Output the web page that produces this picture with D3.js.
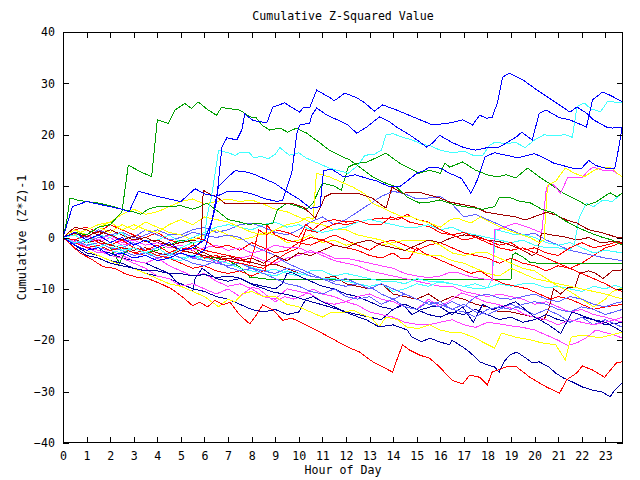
<!DOCTYPE html>
<html><head><meta charset="utf-8">
<script src="https://cdn.jsdelivr.net/npm/d3@7"></script>
<style>
html,body{margin:0;padding:0;background:#fff;}
svg{display:block;}
text{font-family:'DejaVu Sans Mono',monospace;font-size:11.6px;fill:#000;}
</style>
</head><body>
<svg id="chart" width="640" height="480"></svg>
<script>
// ---- tick labels / titles ----
const xTicks = d3.range(0, 24);
const yTicks = [-40, -30, -20, -10, 0, 10, 20, 30, 40];
const titleText = "Cumulative Z-Squared Value";
const xLabel = "Hour of Day";
const yLabel = "Cumulative (Z*Z)-1";

// ---- series: [hour, value] ----
const blueTop = [[0,0],[0.5,-1.5],[1,-2.5],[1.5,-2],[2,-3.5],[2.5,-3],[3,-4],[3.5,-3.5],[4,-4.5],[4.5,-4],[5,-3],[5.5,-3.8],[6,-2.5],[6.1,-1],[6.5,6.7],[6.74,17.6],[6.95,19.4],[7.37,19],[7.58,20.9],[7.71,24],[8.05,22.8],[8.64,22.3],[8.9,25.4],[9.4,26.2],[9.75,25.2],[10.04,24.4],[10.17,25.2],[10.47,25.4],[10.76,28.7],[10.9,28.3],[11.3,27.3],[11.5,26.6],[11.95,28.1],[12.46,27.2],[12.8,26.2],[13.2,24.6],[13.56,25.8],[14.15,24.8],[14.83,23.5],[15.68,21.9],[16.4,22.3],[16.95,22.9],[17.37,21.9],[17.67,23.8],[17.97,23.2],[18.2,23.4],[18.43,26.3],[18.64,31.2],[18.94,32],[19.5,30.7],[20.1,28.7],[20.6,27.2],[21.06,25.8],[21.5,24.4],[21.8,25.4],[22.2,24.2],[22.5,22.9],[23.05,21.5],[23.3,21.3],[23.73,21.5]];
const blueSecond = [[0,0],[0.4,6],[1,7],[1.5,6.5],[2,6],[2.5,5.5],[2.8,5],[3.2,9],[3.6,8.5],[4,8],[4.5,7.5],[5,7],[5.6,9.5],[6,8.5],[6.5,8],[7,9],[7.5,9],[8,8.5],[8.6,7.5],[9.1,7],[9.32,7.3],[9.7,12.5],[9.92,20.3],[10.04,21.9],[10.47,22.3],[10.55,23.8],[10.76,25.2],[11.2,23.8],[11.74,22.7],[12.08,21.9],[12.46,20.3],[12.88,21.5],[13.43,23.5],[13.86,22.5],[14.15,21.5],[14.58,20.3],[14.83,19.6],[15.42,17.6],[15.68,18.4],[15.97,19.9],[16.5,18.5],[17,17.5],[17.5,17],[18,17.5],[18.5,17.6],[19.24,19.6],[19.45,20.5],[19.9,19],[20.2,24.2],[20.5,24.8],[21.06,23.3],[21.5,22.9],[22.2,21.5],[22.46,26.8],[22.88,28.3],[23.2,27.7],[23.73,26.4]];
const blueThird = [[0,0],[0.5,1],[1,-0.5],[1.5,0.5],[2,-1],[2.5,0],[3,-1.5],[3.5,-0.5],[4,-2],[4.5,-1],[5,-2.5],[5.5,-2],[6,-0.5],[6.3,3],[6.6,10],[7,11.8],[7.3,13],[7.7,12.8],[8,12.5],[8.5,11.5],[9,10.5],[9.6,8.6],[10,7.5],[10.5,5.7],[10.9,6],[11.05,13],[11.4,13.3],[11.9,11.8],[12.4,12.2],[12.9,11.5],[13.3,11],[13.8,10],[14.3,10],[14.6,11],[15,12.5],[15.3,13],[15.55,13.7],[16,13.5],[16.4,12.5],[16.9,11.5],[17.3,8.6],[17.6,11.5],[17.9,15.7],[18.3,16.5],[18.8,16],[19.3,15.5],[19.7,16],[20,16.3],[20.4,15.5],[20.8,14.5],[21.2,14],[21.6,13.5],[22,13.5],[22.3,15],[22.6,14],[23,13.5],[23.4,13.5],[23.55,17],[23.73,22]];
const cyanTop = [[0,0],[0.5,-1],[1,-0.5],[1.5,-2],[2,-1],[2.5,-2.5],[3,-2],[3.5,-3],[4,-2],[4.5,-3.5],[5,-2],[5.5,-1],[6,-0.5],[6.1,4],[6.3,8],[6.5,14],[6.6,17],[7,16.5],[7.3,16],[7.5,16.5],[7.9,16.5],[8.1,15.5],[8.4,15.8],[8.7,15.3],[9,16.2],[9.2,17.5],[9.6,16],[10,16.5],[10.3,15.5],[10.8,14.5],[11.3,13.5],[11.7,13],[12.1,12.5],[12.5,14],[12.8,16],[13.2,16.2],[13.5,17],[13.7,20],[14,20.2],[14.4,19.5],[14.8,19],[15.2,18.2],[15.6,17.8],[16,17],[16.5,16.5],[17,16.8],[17.4,16],[17.8,16],[18.1,18],[18.3,18.5],[18.8,18.3],[19.2,18.5],[19.6,17.5],[20,19],[20.4,20],[20.8,19.8],[21.3,20],[21.6,19.5],[21.8,25.5],[22.1,26.2],[22.4,25],[22.8,24.5],[23.1,26.5],[23.73,26.2]];
const greenTop = [[0,0],[0.5,1],[1,0.5],[1.5,2],[2,2.5],[2.3,4],[2.5,5],[2.77,14.1],[3.2,13],[3.76,11.8],[4,22.9],[4.46,22.2],[4.75,24.8],[5.17,26.1],[5.45,25.1],[5.73,26.4],[6.1,25],[6.51,23.8],[6.72,25.3],[7.5,24.8],[7.92,23.5],[8.2,23.3],[8.43,21.9],[8.77,20.9],[9.2,21.3],[9.53,20.5],[9.9,21.3],[10.34,20.3],[10.9,18.4],[11.3,17],[11.86,15.7],[12.16,15.1],[12.58,13.7],[13.14,11.8],[13.56,10.8],[14.15,9.8],[14.58,7.9],[15.13,6.7],[15.55,6.9],[15.97,7.3],[16.5,6.5],[17,6],[17.4,5.8],[17.8,5.5],[18.3,6],[18.5,7.7],[19,7.7],[19.4,7],[19.8,6.8],[20.3,5.5],[20.8,4.8],[21.2,3.5],[21.8,2],[22.3,1],[22.9,0],[23.3,-0.5],[23.73,-1.5]];
const greenMid = [[0,0],[0.15,3],[0.3,7.7],[0.6,7.3],[1,7],[1.5,6.7],[2,6.2],[2.5,5.5],[3,5],[3.3,4.5],[3.6,5.5],[4,6],[4.5,6],[5,6.2],[5.5,5.5],[5.8,6],[6.1,6.7],[6.6,5],[7,3.5],[7.5,3],[7.9,2.5],[8.2,2.8],[8.6,2.5],[8.9,2.8],[9.1,5.4],[9.5,6.7],[10,6],[10.3,5.4],[10.6,6.7],[11,10.6],[11.5,10],[11.8,9.2],[12.1,13.7],[12.4,14.4],[12.9,14.7],[13.7,16.4],[14.3,14.4],[15.1,12.5],[15.55,13.1],[16,12.5],[16.2,14.5],[16.4,13.7],[16.95,14.7],[17.5,13.1],[18,12.2],[18.4,11.8],[18.8,12.2],[19.2,11.6],[19.7,13.5],[20.2,11.8],[20.6,10.6],[21.2,8.7],[21.8,7.3],[22.2,6.3],[22.6,6.9],[23.2,8.7],[23.5,7.9],[23.73,8.7]];
const greenFlat = [[0,0],[0.5,-1],[1,-1.5],[1.5,-1],[2,-2],[2.4,-5],[2.6,-3],[3,-2],[3.5,-3],[4,-2.5],[4.5,-1.5],[5,-0.5],[5.5,-1],[5.8,-3.4],[6.5,-4],[7,-4.5],[7.5,-5.7],[7.92,-7.7],[8.3,-7.9],[8.65,-8.1],[19.0,-8.1],[19.05,-3.4],[19.2,-3],[19.5,-3.8],[19.8,-4.8],[20.1,-5],[23.73,-5]];
const darkredFlat = [[0,0],[0.5,0.8],[1,0.2],[1.5,1.2],[2,0.5],[2.5,-0.5],[3,0.3],[3.5,-0.8],[4,-0.5],[4.5,-1.5],[5,-1],[5.5,-0.5],[5.85,-1],[5.95,9.2],[6.2,8.5],[6.5,8],[6.85,6.7],[9.7,6.7],[10.2,5.9],[10.7,3.8],[11,6.7],[11.1,7.9],[11.4,8.6],[12.5,8.6],[13.1,7.7],[13.4,6.7],[13.7,5.7],[13.95,9.8],[14.4,8.6],[14.8,8.8],[15.1,8.8],[15.5,8.3],[15.97,7.7],[16.4,6.9],[17.5,5.9],[17.95,4.9],[19.2,4],[19.6,3.4],[20.5,4.9],[20.9,4.4],[21.36,3.4],[21.8,2.8],[22.3,1.5],[22.9,0.9],[23.5,0],[23.73,0.1]];
const magentaJump = [[0,0],[0.5,1],[1,0.5],[1.5,-0.5],[2,0.5],[2.5,-1],[3,-0.5],[3.5,-1.5],[4,-1],[4.5,-2],[5,-1.5],[5.5,-2.5],[6,-2],[6.5,-1.5],[7,-2.5],[7.5,-2],[8,-3],[8.5,-2.5],[9,-1.5],[9.5,-2],[10,-2],[10.5,-3],[11,-3],[11.5,-4],[12,-4],[12.5,-4.5],[13,-5],[13.5,-5.5],[14,-6],[14.5,-7],[15,-7.5],[15.5,-7.8],[16,-7.5],[16.4,-6.8],[16.8,-6.9],[17.2,-7.5],[17.6,-7.9],[18,-8.2],[18.2,-8.3],[18.3,1.5],[18.43,1.5],[18.7,2],[19.2,2.8],[19.7,2],[20,1.5],[20.3,0.9],[20.5,9.6],[20.7,10.6],[20.9,9.8],[21.1,8.6],[21.4,11.6],[22,11.6],[22.3,13.1],[22.5,13.7],[22.9,13.1],[23.3,13.1],[23.73,11.8]];
const yellowJump = [[0,0],[0.5,1],[1,0.5],[1.5,2],[2,3],[2.5,1.5],[3,2.5],[3.5,1.5],[4,1],[4.5,2.5],[5,3.5],[5.5,2.5],[6,4],[6.5,3.5],[7,3],[7.5,2],[8,1],[8.5,0.5],[9,1.5],[9.5,2.5],[10,3],[10.4,4],[10.6,3.5],[10.75,12.5],[11,12.2],[11.3,11.8],[11.8,10.8],[12.3,9.8],[12.8,8.5],[13.1,6.7],[13.6,5.7],[14,4.8],[14.4,4],[14.8,4],[15.1,3.4],[15.55,2.8],[16,2],[16.4,3.4],[16.7,3.8],[17.3,2.8],[17.7,4],[18.2,2.8],[18.8,1.5],[19.2,0.9],[19.8,0],[20.2,-1],[20.4,-0.5],[20.55,10.2],[20.9,11],[21.3,13.5],[21.7,12.5],[22.1,11.8],[22.5,13],[22.9,13.7],[23.3,13.5],[23.5,12.5],[23.73,11.8]];
const redBottom = [[0,0],[0.72,-3],[1.2,-4.2],[1.7,-5.7],[2.2,-6],[2.6,-7],[3.1,-7.7],[3.6,-8],[4.1,-8.9],[4.6,-10],[5.08,-11.6],[5.5,-13.3],[5.8,-12.6],[6.14,-13.5],[6.44,-12.2],[6.78,-13.1],[7.08,-12.6],[7.5,-15.1],[7.92,-16.8],[8.14,-15.5],[8.47,-13.1],[8.9,-14.1],[9.32,-16.1],[9.7,-15.7],[10.13,-16.6],[10.47,-17.4],[10.9,-18.4],[11.3,-19.4],[11.74,-20.5],[12.16,-21.5],[12.58,-22.3],[13.14,-24.2],[13.56,-25.2],[13.98,-26.2],[14.2,-23.3],[14.4,-20.9],[14.7,-21.9],[15.13,-22.9],[15.55,-23.5],[15.97,-25.2],[16.5,-27.8],[16.95,-28.5],[17.25,-26.8],[17.67,-27.2],[18.0,-28.7],[18.2,-26.2],[18.8,-25.2],[19.24,-25.2],[19.8,-27.2],[20.5,-29.1],[21.06,-30.3],[21.36,-27.7],[21.78,-26.4],[22.03,-25],[22.46,-25.8],[22.97,-27.2],[23.47,-24.4],[23.73,-24.2]];
const navyBottom = [[0,0],[0.5,-2],[1,-3.5],[1.5,-4],[2,-5],[2.5,-5.5],[3,-6],[3.5,-6.5],[4,-6.5],[4.5,-7],[5,-7],[5.5,-7.5],[6,-7.2],[6.5,-7.8],[7,-7.5],[7.5,-7.9],[8.05,-9.2],[8.9,-10.6],[9.6,-11.2],[10.3,-12.2],[11,-13.1],[11.74,-14.1],[12.3,-15.1],[12.9,-16.1],[13.4,-17.4],[14,-17],[14.6,-18],[14.8,-19.4],[15.2,-20.3],[15.55,-19.6],[15.97,-20.3],[16.4,-20.9],[16.5,-20],[16.95,-21.3],[17.25,-22.3],[17.67,-24.2],[18,-24.8],[18.3,-25.2],[18.5,-26.2],[18.7,-24.2],[18.94,-22.9],[19.24,-22.3],[19.58,-23.3],[19.9,-24.4],[20.2,-24.2],[20.6,-25.2],[20.9,-26.4],[21.2,-27.3],[21.6,-28.1],[22.03,-29.1],[22.46,-29.7],[22.88,-30.1],[23.2,-31],[23.4,-29.7],[23.73,-28.3]];
const redA = [[0,0],[0.5,-1],[1,-2],[1.5,-1.5],[2,-2.5],[2.5,-2],[3,-3],[3.5,-2.5],[4,-3.5],[4.5,-4],[5,-3],[5.5,-1.5],[6,-2.5],[6.5,-3],[7,-3.5],[7.5,-4],[7.9,-5],[8.1,-2.5],[8.3,1.5],[8.6,0.5],[9,1.5],[9.5,1],[10,0],[10.3,2.5],[10.6,1.5],[11,3],[11.5,3.5],[12,3],[12.5,3.3],[13,2.5],[13.5,2.5],[13.9,4],[14.2,3.5],[14.6,4.5],[15,3.5],[15.5,3],[16,1.5],[16.5,0.5],[17,1],[17.5,0],[18,-0.5],[18.5,-1.5],[19,-1],[19.5,-2.5],[20,-2],[20.5,-3],[21,-3.5],[21.5,-2],[22,-1],[22.5,-2],[23,-1.5],[23.4,-1],[23.73,-1.1]];
const darkredB = [[0,0],[0.5,-0.5],[1,-1],[1.5,-0.5],[2,-1.5],[2.5,-2],[3,-2.5],[3.5,-2],[4,-3],[4.5,-3.5],[5,-2.5],[5.5,-3],[6,-3.5],[6.5,-4.5],[7,-4],[7.5,-4.5],[8,-4.8],[8.5,-5.5],[9,-5.2],[9.5,-6],[10,-7],[10.5,-7.5],[11,-8],[11.5,-7.5],[12,-9],[12.5,-9.5],[13,-10],[13.5,-9],[14,-11],[14.5,-11.5],[15,-12],[15.5,-11],[16,-12.5],[16.5,-11.5],[17,-12],[17.5,-13],[18,-13.5],[18.5,-14.5],[19,-14.5],[19.5,-15],[20,-15.5],[20.4,-16],[20.6,-14],[20.8,-10],[21.1,-11],[21.4,-9.8],[21.7,-9.8],[21.9,-7],[22.3,-6.5],[22.6,-7],[22.9,-8],[23.3,-6.5],[23.73,-6.3]];
const cyanLow = [[0,0],[0.5,-0.5],[1,-1.5],[1.5,-1],[2,-2],[2.5,-1.5],[3,-3],[3.5,-2.5],[4,-3.5],[4.5,-3],[5,-4],[5.5,-3.5],[6,-4.5],[6.5,-5],[7,-5.5],[7.5,-5],[8,-5.8],[8.5,-6.5],[9,-6.2],[9.5,-7],[10,-7.5],[10.5,-6.5],[11,-6.5],[11.5,-7.5],[12,-7],[12.5,-7.5],[13,-8],[13.5,-8.5],[14,-8.5],[14.5,-9],[15,-8],[15.5,-8.5],[16,-8.7],[16.5,-9],[17,-9.5],[17.5,-10],[18,-9.8],[18.5,-9],[19,-9.5],[19.5,-9],[20,-9],[20.5,-9.8],[21,-9.5],[21.5,-10],[22,-10.5],[22.5,-9.5],[23,-10],[23.4,-9.3],[23.73,-9.8]];
const cyanEnd = [[0,0],[0.5,0.5],[1,-1],[1.5,0.5],[2,0],[2.5,1],[3,-1.5],[3.5,-0.5],[4,-0.5],[4.5,0.5],[5,-1],[5.5,0],[6,1],[6.5,2],[7,2.5],[7.5,2],[8,1.5],[8.5,2.5],[9,3],[9.5,2],[10,2.5],[10.5,1.5],[11,1],[11.5,1.5],[12,2],[12.5,3],[13,3.5],[13.5,3],[14,2.5],[14.5,2],[15,2],[15.5,2.5],[16,1.5],[16.5,2],[17,1],[17.5,0.5],[18,0],[18.5,-0.5],[19,-1],[19.5,-0.5],[20,-1.5],[20.5,-2],[21,-2],[21.5,-2.5],[21.7,-1],[21.9,4],[22.2,6.7],[22.5,6],[22.9,7.3],[23.3,7],[23.73,8.7]];
const cyanJump = [[0,0],[0.5,-0.8],[1,-1.5],[1.5,-2],[2,-2.5],[2.5,-3],[3,-2],[3.5,-3],[4,-3.5],[4.5,-4],[5,-4.5],[5.5,-3.5],[6,-4],[6.5,-4.5],[7,-5],[7.5,-6],[8,-6.5],[8.5,-7],[9,-7.5],[9.5,-6.5],[10,-7],[10.5,-7.5],[11,-8],[11.5,-8],[12,-8.5],[12.5,-9],[13,-9.5],[13.5,-9],[14,-10.5],[14.5,-10],[15,-9],[15.5,-9.5],[16,-8.5],[16.5,-9],[17,-9.5],[17.5,-9],[18,-9.8],[18.2,-8],[18.35,1.5],[18.8,1],[19.2,0.5],[19.6,0.5],[20,0],[20.5,-1],[21,-1.5],[21.5,-1],[22,-2],[22.5,-3],[23,-2.5],[23.73,-3]];
const slateA = [[0,0],[0.5,-0.5],[1,-1.5],[1.5,-1],[2,-2],[2.5,-2.5],[3,-3.5],[3.5,-3],[4,-4],[4.5,-3.5],[5,-3],[5.5,-4],[6,-4.5],[6.5,-5],[7,-5.5],[7.5,-5],[8,-6],[8.5,-6.5],[9,-7],[9.5,-6],[10,-6.5],[10.5,-7.5],[11,-8],[11.5,-9],[12,-9.5],[12.5,-9],[13,-10],[13.5,-9],[14,-10],[14.5,-11],[15,-12],[15.5,-13],[16,-13.5],[16.5,-12.5],[17,-13.5],[17.5,-11.5],[18,-11],[18.5,-11.8],[19,-12],[19.5,-11.5],[20,-11],[20.5,-12],[21,-12.5],[21.5,-11.5],[22,-12],[22.5,-13],[23,-13.5],[23.4,-12.8],[23.73,-12.5]];
const slateB = [[0,0],[0.5,-1.2],[1,-0.5],[1.5,-2],[2,-2.5],[2.5,-2],[3,-1],[3.5,-2.5],[4,-3.5],[4.5,-3],[5,-4],[5.5,-5],[6,-5.5],[6.5,-4.5],[7,-5.8],[7.5,-6.5],[8,-6],[8.5,-7],[9,-8],[9.5,-9],[10,-9.5],[10.5,-10.5],[11,-11],[11.5,-10],[12,-11.5],[12.5,-12],[13,-11.5],[13.5,-13],[14,-12],[14.5,-13.5],[15,-14],[15.5,-12.5],[16,-13],[16.5,-14],[17,-14.5],[17.5,-15.5],[18,-14],[18.5,-13.5],[19,-14],[19.5,-13],[20,-12.5],[20.5,-13],[21,-14],[21.5,-14.5],[22,-13.5],[22.5,-14],[23,-15],[23.73,-14]];
const slateC = [[0,0],[0.5,0.5],[1,-1],[1.5,0],[2,0.5],[2.5,-0.5],[3,-0.5],[3.5,0.5],[4,1.5],[4.5,0.5],[5,0.5],[5.5,1.5],[6,2],[6.5,1],[7,1.5],[7.5,2.5],[8,2.8],[8.5,2],[9,1],[9.5,0.5],[10,1.5],[10.5,3],[11,4],[11.5,2.5],[12,3.5],[12.5,5],[13,6.5],[13.5,8],[14,9],[14.5,8.5],[15,7.5],[15.5,7.7],[16,8],[16.5,6.5],[17,4],[17.5,4.5],[18,3.5],[18.5,2.5],[19,1.5],[19.5,0.5],[20,0.8],[20.5,-0.5],[21,-1.5],[21.5,-2.5],[22,-3],[22.5,-3.5],[23,-4],[23.73,-4.5]];
const slateD = [[0,0],[0.5,1],[1,0],[1.5,1.5],[2,0.5],[2.5,1],[3,0],[3.5,1.5],[4,0.5],[4.5,-0.5],[5,0],[5.5,1],[6,0.5],[6.5,0],[7,0.5],[7.5,0],[8,-1.5],[8.5,-2.5],[9,-3.5],[9.5,-5],[10,-6],[10.5,-7],[11,-8],[11.5,-8.5],[12,-8],[12.5,-9],[13,-9.5],[13.5,-11],[14,-12],[14.5,-11],[15,-12],[15.5,-13],[16,-12.5],[16.5,-14],[17,-13],[17.5,-14.5],[18,-15],[18.5,-14],[19,-13],[19.5,-14],[20,-15],[20.5,-14],[21,-15],[21.5,-16.5],[22,-15.5],[22.5,-17],[23,-16],[23.73,-17.5]];
const magentaA = [[0,0],[0.5,-1],[1,-2],[1.5,-3],[2,-2.5],[2.5,-3.5],[3,-4.5],[3.5,-5],[4,-4],[4.5,-5.5],[5,-6.5],[5.5,-7.5],[6,-7],[6.5,-8.5],[7,-9.5],[7.5,-9],[8,-10],[8.5,-11.5],[9,-12],[9.5,-10],[10,-10.5],[10.5,-11],[11,-12.5],[11.5,-13],[12,-12.5],[12.5,-11.5],[13,-11],[13.5,-12],[14,-12.5],[14.5,-13.5],[15,-14],[15.5,-12],[16,-13.5],[16.4,-12.3],[16.9,-10.8],[17.4,-11.5],[17.9,-12.5],[18.4,-13],[18.8,-13.5],[19.2,-14],[19.6,-15],[20,-15.5],[20.5,-16],[21,-17],[21.5,-16],[22,-16.5],[22.5,-17],[23,-16.5],[23.4,-16],[23.73,-15.5]];
const magentaB = [[0,0],[0.5,1],[1,0],[1.5,-1],[2,0],[2.5,-1.5],[3,-1],[3.5,-2.5],[4,-2],[4.5,-3.5],[5,-3],[5.5,-4],[6,-3.5],[6.5,-5],[7,-4.5],[7.5,-4],[8,-3.5],[8.5,-4.5],[9,-5],[9.5,-4],[10,-3.5],[10.5,-2.5],[11,-3.5],[11.5,-4.5],[12,-5],[12.5,-5.5],[13,-6.5],[13.5,-7],[14,-7.5],[14.5,-8],[15,-8.5],[15.5,-9],[16,-9.5],[16.5,-9.5],[17,-10.5],[17.5,-11],[18,-11.5],[18.5,-11],[19,-11.5],[19.5,-12],[20,-13],[20.5,-12.5],[21,-13.5],[21.5,-14.5],[22,-14],[22.5,-15],[23,-15.5],[23.73,-16.5]];
const magentaC = [[0,0],[0.5,-0.8],[1,-1.8],[1.5,-2.5],[2,-3.5],[2.5,-4],[3,-5],[3.5,-6],[4,-7.5],[4.5,-8],[5,-9.5],[5.5,-9],[6,-10],[6.5,-11],[7,-10],[7.5,-11.5],[8,-9.7],[8.3,-10],[8.7,-11.5],[9,-12.5],[9.4,-11.5],[9.8,-12],[10.2,-11.2],[10.6,-10],[11,-11],[11.5,-11.5],[12,-12.5],[12.5,-13.2],[13,-14.5],[13.5,-15],[14,-15.5],[14.5,-16.5],[15,-16.9],[15.5,-17],[16,-16.5],[16.5,-16],[17,-17],[17.5,-17.5],[18,-16.5],[18.5,-16.8],[19,-17.2],[19.5,-17.5],[20,-18],[20.5,-19],[21,-20],[21.4,-21],[21.8,-20.5],[22.2,-19.5],[22.6,-18],[23,-18.5],[23.4,-19],[23.73,-19.6]];
const navyA = [[0,0],[0.5,-1.5],[1,-3],[1.5,-3.5],[2,-4.5],[2.5,-5],[3,-6],[3.5,-7],[4,-7.5],[4.5,-8],[5,-9],[5.5,-10],[6,-10.5],[6.5,-11.5],[7,-12],[7.5,-13],[8,-14],[8.5,-14.5],[9,-14],[9.5,-15],[10,-14.5],[10.3,-12],[10.6,-11.5],[11,-12.5],[11.5,-13.5],[12,-14.5],[12.5,-15],[13,-15.5],[13.5,-16],[14,-14],[14.4,-13],[14.8,-15],[15.2,-14],[15.6,-13.5],[16,-13.5],[16.5,-15],[16.95,-13.5],[17.4,-16.5],[17.8,-13],[18.2,-14],[18.6,-13.5],[19.2,-12.5],[19.6,-14],[20,-15.5],[20.6,-17],[21.1,-18.7],[21.6,-14.5],[21.9,-15],[22.5,-16],[23,-16.5],[23.4,-17.5],[23.73,-18.4]];
const navyB = [[0,0],[0.5,-1],[1,-2],[1.5,-2.5],[2,-3],[2.5,-4],[3,-4.5],[3.5,-5],[4,-6],[4.5,-7],[5,-9.5],[5.5,-10.5],[5.6,-8],[5.9,-6],[6.2,-7],[6.5,-8],[7,-8.5],[7.5,-8],[8,-9],[8.5,-9.5],[9,-10],[9.3,-9],[9.5,-7],[9.7,-6.8],[10,-7.5],[10.5,-8.5],[11,-9.5],[11.5,-10],[12,-11],[12.5,-11.5],[13,-12.5],[13.5,-13.5],[14,-14],[14.5,-13],[15,-14],[15.5,-15],[16,-15.5],[16.5,-14.5],[17,-15],[17.5,-14],[18,-15],[18.5,-16],[19,-15.5],[19.5,-16.5],[20,-16],[20.5,-15],[21,-16],[21.5,-16.5],[22,-15.5],[22.5,-16],[23,-17],[23.73,-16.5]];
const yellowA = [[0,0],[0.5,1.5],[1,0.5],[1.5,2],[2,1],[2.5,2.5],[3,1.5],[3.5,3],[4,2],[4.5,1],[5,0.5],[5.5,-0.5],[6,0.5],[6.5,1.5],[7,0.5],[7.5,-0.5],[8,0],[8.5,1],[9,0.5],[9.5,-1],[10,-0.5],[10.5,0.5],[11,-1],[11.5,-0.5],[12,-1.5],[12.5,-1],[13,-0.5],[13.5,-1.5],[14,-1],[14.5,-0.5],[15,-0.5],[15.5,-0.5],[16,-1.5],[16.5,-3],[17,-3.5],[17.5,-3],[18,-3],[18.5,-4],[19,-5],[19.5,-6],[20,-6.5],[20.5,-8],[21,-9.5],[21.5,-10.5],[22,-12],[22.5,-13.5],[23,-12],[23.3,-10.5],[23.73,-9.8]];
const yellowB = [[0,0],[0.5,-1.5],[1,-2.5],[1.5,-3.5],[2,-4.5],[2.5,-5.5],[3,-6],[3.5,-7],[4,-8],[4.5,-9],[5,-9.5],[5.5,-10.5],[6,-11.5],[6.3,-12.5],[6.6,-13.5],[7,-12],[7.3,-12.5],[7.6,-11],[8,-10.5],[8.5,-11.5],[9,-11.5],[9.5,-13],[10,-13.5],[10.5,-14.5],[11,-15.5],[11.4,-14.5],[11.8,-14.7],[12.3,-14.1],[12.7,-15],[13.1,-15.7],[13.4,-17.4],[13.7,-15.5],[14.2,-16],[14.6,-17.5],[15.1,-17.7],[15.55,-17],[15.97,-18],[16.5,-18.5],[16.95,-18.6],[17.5,-19.6],[17.9,-20.6],[18.3,-21.5],[18.6,-18.6],[19.2,-19.4],[19.8,-19.9],[20.3,-20.5],[20.9,-20.9],[21.3,-23.8],[21.55,-19.4],[22,-19],[22.3,-19.2],[22.8,-19.5],[23.3,-18.9],[23.73,-18.4]];
const yellowC = [[0,0],[0.5,0.5],[1,1.5],[1.5,2.5],[2,3],[2.5,4.5],[3,5.5],[3.5,4.5],[4,5],[4.5,6],[5,7],[5.5,7.5],[6,6.5],[6.5,7],[7,7.5],[7.5,7],[8,7.3],[8.5,6.5],[9,5.5],[9.5,5],[10,4],[10.5,3],[11,2.5],[11.5,1.5],[12,1.5],[12.5,0.5],[13,0],[13.5,-0.5],[14,-1.5],[14.5,-2.5],[15,-3],[15.5,-3.5],[16,-3.5],[16.5,-4.5],[17,-5],[17.5,-6],[18,-7],[18.5,-7.5],[19,-6],[19.5,-7],[20,-8],[20.5,-8.5],[21,-9],[21.5,-9.5],[22,-10],[22.5,-10.5],[23,-11],[23.73,-12]];
const redB = [[0,0],[0.5,-0.5],[1,-1.5],[1.5,-2],[2,-2.5],[2.5,-2],[3,-3],[3.5,-3.5],[4,-4.5],[4.5,-4],[5,-5],[5.5,-6],[6,-5.5],[6.5,-6.5],[7,-7],[7.5,-6.5],[8,-7.5],[8.6,-6.3],[8.65,2.4],[9,0.5],[9.5,-0.5],[10,-1],[10.5,0],[11,-0.5],[11.5,-1.5],[12,-2],[12.5,-2.5],[13,-3.5],[13.5,-4],[14,-3],[14.3,-4],[14.7,-4],[15,-2],[15.3,-3],[15.8,-4],[16.3,-5],[16.8,-6],[17.3,-7],[17.7,-6.5],[18.2,-8],[18.7,-9],[19.2,-9.5],[19.7,-10],[20.2,-11],[20.7,-12],[21,-11.5],[21.5,-12],[22,-13],[22.5,-14],[23,-13.5],[23.73,-13]];
const redC = [[0,0],[0.5,1.5],[1,2],[1.5,1],[2,2.5],[2.5,1.5],[3,0.5],[3.5,0],[4,1],[4.5,-0.5],[5,-1],[5.5,0],[6,-0.5],[6.5,-2],[7,-1.5],[7.5,-2.5],[8,-1],[8.5,-2],[9,-3],[9.5,-2.5],[10,-1],[10.5,-1.5],[11,-0.5],[11.5,0.5],[12,-0.5],[12.5,-1.5],[13,-2.5],[13.5,-1],[14,-0.5],[14.5,-1.5],[15,-2.5],[15.5,-1.5],[16,-1],[16.5,-2],[17,-3],[17.5,-3.5],[18,-4],[18.5,-5],[19,-4],[19.5,-5],[20,-5.5],[20.5,-6.5],[21,-5.5],[21.5,-6],[22,-5],[22.5,-3.5],[23,-2],[23.4,-1.5],[23.73,-0.8]];
const redD = [[0,0],[0.5,-0.5],[1,0.5],[1.5,-1],[2,-1.5],[2.5,-0.5],[3,-2],[3.5,-2.5],[4,-1.5],[4.5,-3],[5,-2],[5.5,-2.5],[6,-4],[6.5,-3.5],[7,-4.5],[7.5,-5],[8,-5.5],[8.5,-6],[9,-4.5],[9.5,-3],[10,-2],[10.3,1.5],[10.8,1],[11.2,2],[11.6,2.8],[12,2.5],[12.5,3],[13,3.5],[13.56,3.8],[14,3.5],[14.3,4],[14.7,3],[15.2,2.5],[15.6,2],[16,0.9],[16.5,0.5],[17,-0.5],[17.5,0],[18,-1],[18.5,-2],[19,-2.5],[19.5,-2],[20,-3],[20.5,-4],[21,-5],[21.5,-6],[22,-7],[22.5,-8],[23,-9],[23.4,-10],[23.73,-10.5]];
const darkredC = [[0,0],[0.5,2],[1,1.5],[1.5,0.5],[2,1.5],[2.5,0.5],[3,-0.5],[3.5,0],[4,-1],[4.5,-1.5],[5,-2.5],[5.5,-2],[6,-3],[6.5,-4],[7,-3.5],[7.5,-4.5],[8,-4],[8.5,-5],[9,-3.5],[9.5,-4.5],[10,-3],[10.5,-3.5],[11,-2.5],[11.5,-1.5],[12,-2],[12.5,-1],[13,-0.5],[13.5,-1.5],[14,-2],[14.5,-2.5],[15,-1.5],[15.5,-0.5],[16,-1],[16.5,0],[17,0.5],[17.5,0.3],[18,-0.5],[18.5,-0.8],[19,-1.5],[19.5,-2.5],[19.9,-3.5],[20.1,-3],[20.3,0.9],[20.7,0.5],[21.2,0.2],[21.8,-0.5],[22.3,0],[22.8,-1],[23.3,-0.8],[23.73,-0.9]];

// ---- colours ----
const RED = "#ff0000", GREEN = "#00a000", BLUE = "#0000ff", MAGENTA = "#ff40ff",
      CYAN = "#40ffff", YELLOW = "#ffff00", DARKRED = "#a00000", SLATE = "#6060ff", NAVY = "#0000a0";

const seriesList = [
  {pts: redC, color: RED}, {pts: greenFlat, color: GREEN}, {pts: slateC, color: SLATE},
  {pts: magentaB, color: MAGENTA}, {pts: cyanLow, color: CYAN}, {pts: yellowA, color: YELLOW},
  {pts: darkredB, color: DARKRED}, {pts: navyB, color: NAVY}, {pts: slateD, color: SLATE},
  {pts: redB, color: RED}, {pts: magentaA, color: MAGENTA}, {pts: cyanJump, color: CYAN},
  {pts: yellowC, color: YELLOW}, {pts: darkredC, color: DARKRED}, {pts: navyA, color: NAVY},
  {pts: slateA, color: SLATE}, {pts: redD, color: RED}, {pts: magentaC, color: MAGENTA},
  {pts: cyanEnd, color: CYAN}, {pts: yellowB, color: YELLOW}, {pts: slateB, color: SLATE},
  {pts: redA, color: RED}, {pts: greenMid, color: GREEN}, {pts: magentaJump, color: MAGENTA},
  {pts: yellowJump, color: YELLOW}, {pts: darkredFlat, color: DARKRED}, {pts: navyBottom, color: NAVY},
  {pts: redBottom, color: RED}, {pts: cyanTop, color: CYAN}, {pts: greenTop, color: GREEN},
  {pts: blueThird, color: BLUE}, {pts: blueSecond, color: BLUE}, {pts: blueTop, color: BLUE}
];

// ---- layout ----
const L = 63, R = 623, T = 32, B = 443;
const svg = d3.select("#chart");
svg.append("rect").attr("width", 640).attr("height", 480).attr("fill", "#fff");

const x = d3.scaleLinear().domain([0, 23.75]).range([L, R]);
const y = d3.scaleLinear().domain([-40, 40]).range([B, T]);

svg.append("clipPath").attr("id", "clip").append("rect")
  .attr("x", L).attr("y", T).attr("width", R - L).attr("height", B - T);

const line = d3.line().x(d => x(d[0])).y(d => y(d[1]));
const g = svg.append("g").attr("clip-path", "url(#clip)");
seriesList.forEach(s => {
  g.append("path").attr("d", line(s.pts)).attr("fill", "none")
    .attr("stroke", s.color).attr("stroke-width", 1)
    .attr("shape-rendering", "crispEdges");
});

// axes (ticks inward, mirrored)
function styleAxis(sel) {
  sel.select(".domain").remove();
  sel.selectAll("line").attr("stroke", "#000").attr("shape-rendering", "crispEdges");
  sel.selectAll("text").attr("font-family", "'DejaVu Sans Mono',monospace").attr("font-size", "11.6px").attr("fill", "#000");
}
svg.append("g").attr("transform", `translate(0,${B})`)
  .call(d3.axisBottom(x).tickValues(xTicks).tickSize(-6).tickPadding(9).tickFormat(d3.format("d")))
  .call(styleAxis);
svg.append("g").attr("transform", `translate(0,${T})`)
  .call(d3.axisTop(x).tickValues(xTicks).tickSize(-6).tickFormat(""))
  .call(styleAxis);
svg.append("g").attr("transform", `translate(${L},0)`)
  .call(d3.axisLeft(y).tickValues(yTicks).tickSize(-6).tickPadding(8).tickFormat(d3.format("d")))
  .call(styleAxis);
svg.append("g").attr("transform", `translate(${R},0)`)
  .call(d3.axisRight(y).tickValues(yTicks).tickSize(-6).tickFormat(""))
  .call(styleAxis);

svg.append("rect").attr("x", L + 0.5).attr("y", T + 0.5).attr("width", R - L - 1).attr("height", B - T - 1)
  .attr("fill", "none").attr("stroke", "#000").attr("stroke-width", 1).attr("shape-rendering", "crispEdges");

svg.append("text").attr("x", (L + R) / 2).attr("y", 20).attr("text-anchor", "middle").text(titleText);
svg.append("text").attr("x", (L + R) / 2).attr("y", 474).attr("text-anchor", "middle").text(xLabel);
svg.append("text").attr("transform", `translate(26,${(T + B) / 2}) rotate(-90)`).attr("text-anchor", "middle").text(yLabel);
</script>
</body></html>
